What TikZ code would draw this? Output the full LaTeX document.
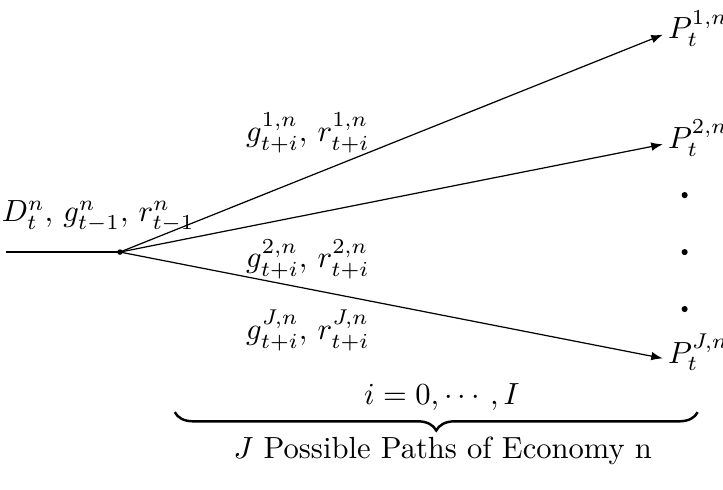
\documentclass[tikz,border=0pt]{standalone}
\usepackage{amsmath,amssymb}
\usepackage{tikz}
\usetikzlibrary{arrows.meta,decorations.pathreplacing}

\begin{document}
\begin{tikzpicture}[
  every node/.style={inner sep=1pt},
  br/.style={-{Latex[length=3.8pt,width=2.8pt]}},
  pt/.style={circle,fill,inner sep=0pt,minimum size=2pt},
  pl/.style={anchor=west,inner sep=1.5pt}]
 \useasboundingbox (-1.379,-2.724) rectangle (6.931,2.897);
 \node[pt,minimum size=1.8pt] (O) at (0,0) {};
 \coordinate (S) at (-1.31,0);
 \node[pl] (P1) at (6.24,2.57) {$P_t^{1,n}$};
 \node[pl] (P2) at (6.24,1.31) {$P_t^{2,n}$};
 \node[pl] (PJ) at (6.24,-1.15) {$P_t^{J,n}$};
 \foreach \y/\n in {0.655/d1,0/d2,-0.655/d3} \node[pt] (\n) at (6.49,\y) {};
 \node (D) at (-0.25,0.41) {$D_t^n,\,g_{t-1}^n,\,r_{t-1}^n$};
 \node (L1) at (2.16,1.37) {$g_{t+i}^{1,n},\,r_{t+i}^{1,n}$};
 \node (L2) at (2.16,-0.08) {$g_{t+i}^{2,n},\,r_{t+i}^{2,n}$};
 \node (LJ) at (2.16,-0.90) {$g_{t+i}^{J,n},\,r_{t+i}^{J,n}$};
 \node (I) at (3.70,-1.67) {$i=0,\cdots,I$};
 \node (J) at (3.71,-2.28) {$J$ Possible Paths of Economy n};
 \draw[thick] (S) -- (O.center);
 \foreach \p in {P1,P2,PJ} \draw[br] (O.center) -- (\p.190);
 \draw[thick,decorate,decoration={brace,mirror,amplitude=6pt}] (0.63,-1.84) -- (6.64,-1.84);
\end{tikzpicture}
\end{document}
